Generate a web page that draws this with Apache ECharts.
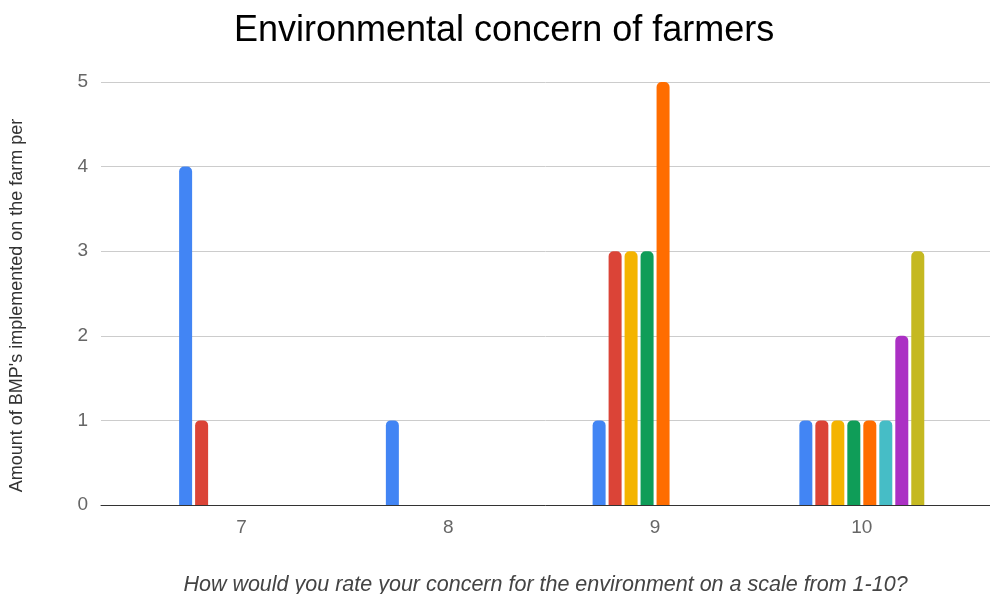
<!DOCTYPE html>
<html>
<head>
<meta charset="utf-8">
<script src="https://cdn.jsdelivr.net/npm/echarts@6/dist/echarts.min.js"></script>
<style>
  html, body { margin: 0; padding: 0; background: #fff; }
  #chart { width: 990px; height: 594px; }
</style>
</head>
<body>
<div id="chart"></div>
<script>
const categories = [7, 8, 9, 10];
const yTicks = [0, 1, 2, 3, 4, 5];

// one array per sheet column, null where the cell is empty
const col1 = [4, 1, 1, 1];
const col2 = [1, null, 3, 1];
const col3 = [null, null, 3, 1];
const col4 = [null, null, 3, 1];
const col5 = [null, null, 5, 1];
const col6 = [null, null, null, 1];
const col7 = [null, null, null, 2];
const col8 = [null, null, null, 3];

const columns = [col1, col2, col3, col4, col5, col6, col7, col8];
const colors = ['#4285F4', '#DB4437', '#F4B400', '#0F9D58', '#FF6D00', '#46BDC6', '#AB30C4', '#C5B921'];

const font = 'Liberation Sans, Arial, sans-serif';

let chart = echarts.init(document.getElementById('chart'));

const option = {
    animation: false,
    title: {
        text: 'Environmental concern of farmers',
        left: 229,
        top: 8,
        textStyle: { fontFamily: font, fontSize: 36, fontWeight: 'normal', color: '#000' }
    },
    grid: { left: 101, right: 0, top: 82, bottom: 89, containLabel: false, outerBoundsMode: 'none' },
    xAxis: {
        type: 'value',
        min: 6.32,
        max: 10.62,
        name: 'How would you rate your concern for the environment on a scale from 1-10?',
        nameLocation: 'middle',
        nameGap: 69,
        nameTextStyle: { fontFamily: font, fontSize: 21.5, fontStyle: 'italic', color: '#444' },
        axisLine: { show: true, lineStyle: { color: '#333', width: 1 } },
        axisTick: { show: false },
        splitLine: { show: false },
        axisLabel: {
            customValues: categories,
            margin: 13,
            fontFamily: font,
            fontSize: 19,
            color: '#666'
        }
    },
    yAxis: {
        type: 'value',
        min: yTicks[0],
        max: yTicks[yTicks.length - 1],
        interval: 1,
        name: "Amount of BMP's implemented on the farm per",
        nameLocation: 'middle',
        nameGap: 75,
        nameTextStyle: { fontFamily: font, fontSize: 18, color: '#333', padding: [0, 24, 0, 0] },
        axisLine: { show: false },
        axisTick: { show: false },
        splitLine: { lineStyle: { color: '#ccc', width: 1 } },
        axisLabel: { margin: 13, fontFamily: font, fontSize: 19, color: '#666' }
    },
    series: columns.map((vals, k) => ({
        name: 'Column ' + (k + 1),
        type: 'bar',
        barWidth: 13,
        barGap: '23%',
        itemStyle: { color: colors[k], borderRadius: [5, 5, 0, 0] },
        data: categories.map((c, i) => [c, vals[i]]).filter(d => d[1] !== null)
    }))
};

option && chart.setOption(option);
window.addEventListener('resize', chart.resize);
</script>
</body>
</html>
